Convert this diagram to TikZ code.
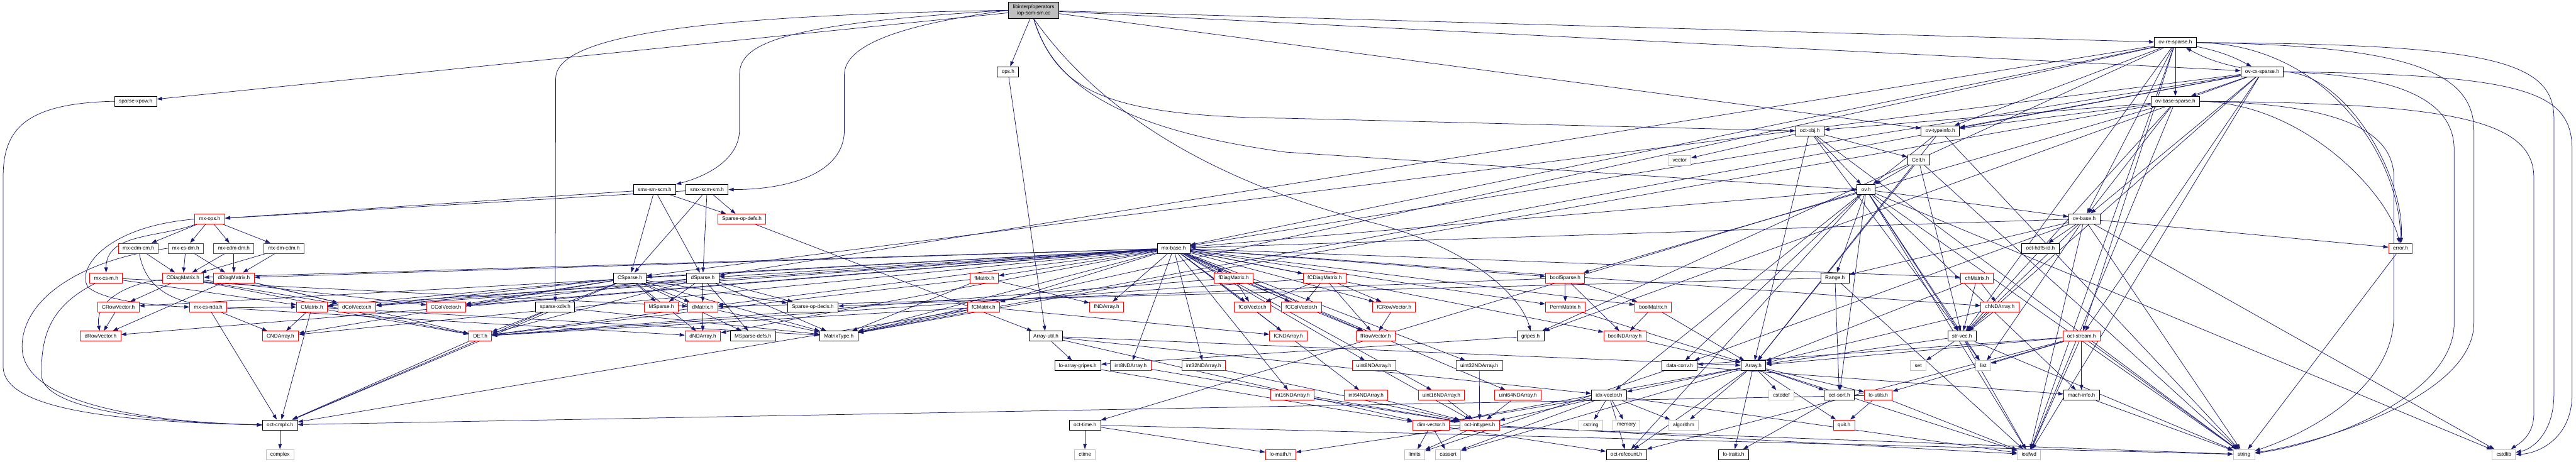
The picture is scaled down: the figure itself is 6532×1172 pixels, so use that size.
\documentclass[tikz,border=0pt]{standalone}
\usepackage{fontspec}
\setmainfont{Liberation Sans}
\usetikzlibrary{arrows.meta}
\definecolor{edgec}{HTML}{191970}
\definecolor{grayb}{HTML}{BFBFBF}
\definecolor{redb}{HTML}{FF0000}
\pgfdeclarelayer{edgelayer}
\pgfsetlayers{edgelayer,main}
\begin{document}
\begin{tikzpicture}[x=0.2pt,y=-0.2pt,
  nd/.style={rectangle,fill=white,minimum height=5.1pt,inner xsep=2.2pt,inner ysep=0pt,font=\fontsize{2.62}{3}\selectfont,line width=0.3pt},
  bn/.style={nd,draw=black},
  rn/.style={nd,draw=redb},
  gn/.style={nd,draw=grayb},
  rootn/.style={nd,draw=black,fill=grayb,minimum height=8.2pt,align=center,font=\fontsize{2.62}{3.2}\selectfont},
  e/.style={draw=edgec,line width=0.24pt,-{Triangle[length=2.6pt,width=1.8pt]}},
]
\useasboundingbox (0,0) rectangle (6532,1172);
% ---------- nodes ----------
\node[rootn] (root) at (2621,26) {libinterp/operators\\/op-scm-sm.cc};
\node[bn] (ovre) at (5516,108) {ov-re-sparse.h};
\node[bn] (ops) at (2556,182) {ops.h};
\node[bn] (ovcx) at (5736,182) {ov-cx-sparse.h};
\node[bn] (sxpow) at (344,257) {sparse-xpow.h};
\node[bn] (ovbs) at (5516,257) {ov-base-sparse.h};
\node[bn] (octobj) at (4589,332) {oct-obj.h};
\node[bn] (ovti) at (4920,332) {ov-typeinfo.h};
\node[gn] (vector) at (4259,407) {vector};
\node[bn] (cell) at (4865,406) {Cell.h};
\node[bn] (smxsm) at (1660,481) {smx-sm-scm.h};
\node[bn] (smxscm) at (1793,481) {smx-scm-sm.h};
\node[bn] (ov) at (4732,481) {ov.h};
\node[rn] (mxops) at (532,556) {mx-ops.h};
\node[rn] (spopdefs) at (1881,556) {Sparse-op-defs.h};
\node[bn] (ovbase) at (5285,555) {ov-base.h};
\node[rn] (mxcdmcm) at (351,630) {mx-cdm-cm.h};
\node[rn] (mxcsdm) at (471,630) {mx-cs-dm.h};
\node[rn] (mxcdmdm) at (593,630) {mx-cdm-dm.h};
\node[rn] (mxdmcdm) at (720,630) {mx-dm-cdm.h};
\node[bn] (mxbase) at (2976,630) {mx-base.h};
\node[bn] (hdf5) at (5174,630) {oct-hdf5-id.h};
\node[rn] (error) at (6087,630) {error.h};
\node[rn] (mxcsm) at (269,705) {mx-cs-m.h};
\node[rn] (CDiag) at (464,705) {CDiagMatrix.h};
\node[rn] (dDiag) at (593,705) {dDiagMatrix.h};
\node[bn] (CSparse) at (1597,705) {CSparse.h};
\node[bn] (dSparse) at (1782,705) {dSparse.h};
\node[rn] (fMatrix) at (2496,705) {fMatrix.h};
\node[rn] (fDiag) at (3128,705) {fDiagMatrix.h};
\node[rn] (fCDiag) at (3359,705) {fCDiagMatrix.h};
\node[rn] (boolSparse) at (3969,705) {boolSparse.h};
\node[bn] (Range) at (4653,705) {Range.h};
\node[rn] (chMatrix) at (5013,705) {chMatrix.h};
\node[rn] (CRowVec) at (300,779) {CRowVector.h};
\node[rn] (mxcsnda) at (528,779) {mx-cs-nda.h};
\node[rn] (CMatrix) at (791,779) {CMatrix.h};
\node[rn] (dColVec) at (905,779) {dColVector.h};
\node[rn] (CColVec) at (1131,779) {CColVector.h};
\node[bn] (sxdiv) at (1408,779) {sparse-xdiv.h};
\node[rn] (MSparse) at (1677,779) {MSparse.h};
\node[rn] (dMatrix) at (1782,779) {dMatrix.h};
\node[bn] (spopdecls) at (2061,779) {Sparse-op-decls.h};
\node[rn] (fCMatrix) at (2494,779) {fCMatrix.h};
\node[rn] (fNDArray) at (2806,779) {fNDArray.h};
\node[rn] (fColVec) at (3176,779) {fColVector.h};
\node[rn] (fCColVec) at (3300,779) {fCColVector.h};
\node[rn] (fCRowVec) at (3535,779) {fCRowVector.h};
\node[rn] (PermMatrix) at (3969,779) {PermMatrix.h};
\node[rn] (boolMatrix) at (4192,779) {boolMatrix.h};
\node[rn] (chNDArray) at (5071,779) {chNDArray.h};
\node[rn] (dRowVec) at (255,853) {dRowVector.h};
\node[rn] (CNDArray) at (711,853) {CNDArray.h};
\node[rn] (DET) at (1218,853) {DET.h};
\node[rn] (dNDArray) at (1782,853) {dNDArray.h};
\node[bn] (MSpdefs) at (1909,853) {MSparse-defs.h};
\node[bn] (MatrixType) at (2127,853) {MatrixType.h};
\node[bn] (ArrayUtil) at (2652,853) {Array-util.h};
\node[rn] (fCNDArray) at (3267,853) {fCNDArray.h};
\node[rn] (fRowVec) at (3488,853) {fRowVector.h};
\node[bn] (gripes) at (3881,853) {gripes.h};
\node[rn] (boolNDArray) at (4120,853) {boolNDArray.h};
\node[bn] (strvec) at (4975,853) {str-vec.h};
\node[rn] (octstream) at (5278,853) {oct-stream.h};
\node[bn] (lagripes) at (2733,928) {lo-array-gripes.h};
\node[rn] (int8) at (2867,928) {int8NDArray.h};
\node[rn] (int32) at (3052,928) {int32NDArray.h};
\node[rn] (uint8) at (3484,928) {uint8NDArray.h};
\node[rn] (uint32) at (3751,928) {uint32NDArray.h};
\node[bn] (dataconv) at (4259,928) {data-conv.h};
\node[bn] (Array) at (4446,928) {Array.h};
\node[gn] (set) at (4864,928) {set};
\node[gn] (list) at (5029,928) {list};
\node[rn] (int16) at (3277,1003) {int16NDArray.h};
\node[rn] (int64) at (3464,1003) {int64NDArray.h};
\node[rn] (uint16) at (3655,1003) {uint16NDArray.h};
\node[rn] (uint64) at (3849,1003) {uint64NDArray.h};
\node[bn] (idxvec) at (4080,1003) {idx-vector.h};
\node[gn] (cstddef) at (4517,1003) {cstddef};
\node[bn] (octsort) at (4664,1003) {oct-sort.h};
\node[rn] (loutils) at (4763,1003) {lo-utils.h};
\node[bn] (machinfo) at (5278,1003) {mach-info.h};
\node[bn] (octcmplx) at (710,1078) {oct-cmplx.h};
\node[bn] (octtime) at (2751,1078) {oct-time.h};
\node[rn] (dimvec) at (3629,1078) {dim-vector.h};
\node[rn] (inttypes) at (3752,1078) {oct-inttypes.h};
\node[gn] (cstring) at (4034,1078) {cstring};
\node[gn] (memory) at (4124,1078) {memory};
\node[gn] (algorithm) at (4269,1078) {algorithm};
\node[rn] (quit) at (4676,1078) {quit.h};
\node[gn] (complex) at (710,1153) {complex};
\node[gn] (ctime) at (2751,1153) {ctime};
\node[rn] (lomath) at (3247,1153) {lo-math.h};
\node[gn] (limits) at (3587,1153) {limits};
\node[gn] (cassert) at (3672,1153) {cassert};
\node[bn] (refcount) at (4124,1153) {oct-refcount.h};
\node[bn] (lotraits) at (4396,1153) {lo-traits.h};
\node[gn] (iosfwd) at (5145,1153) {iosfwd};
\node[gn] (string) at (5690,1153) {string};
\node[gn] (cstdlib) at (6349,1153) {cstdlib};
% ---------- edges ----------
\begin{pgfonlayer}{edgelayer}
\foreach \sa/\ta in {root/sxpow, root/ops, root/ovti, root/ovre, root/ovcx,
ovre/ovbs, ovre/ovbase, ovre/ovti, ovre/mxbase, ovre/strvec, ovre/gripes, ovre/octstream, ovre/dSparse, ovre/MatrixType, ovre/iosfwd,
ovcx/ovbs, ovcx/ovbase, ovcx/ovti, ovcx/mxbase, ovcx/strvec, ovcx/gripes, ovcx/octstream, ovcx/CSparse, ovcx/MatrixType, ovcx/iosfwd,
ovbs/octobj, ovbs/ovbase, ovbs/ovti, ovbs/boolSparse, ovbs/MatrixType, ovbs/strvec, ovbs/iosfwd,
ovti/string, ovti/Array, ovti/ov,
octobj/vector, octobj/Array, octobj/ov, octobj/cell, octobj/strvec, octobj/string,
cell/Array, cell/ov, cell/strvec, cell/string,
ov/ovbase, ov/mxbase, ov/Range, ov/dataconv, ov/idxvec, ov/machinfo, ov/octtime, ov/strvec, ov/octsort, ov/refcount, ov/cstdlib, ov/iosfwd, ov/string, ov/list,
ovbase/mxbase, ovbase/Range, ovbase/dataconv, ovbase/strvec, ovbase/error, ovbase/hdf5, ovbase/cstdlib, ovbase/iosfwd, ovbase/list, ovbase/string,
mxbase/MatrixType, mxbase/dMatrix, mxbase/CMatrix, mxbase/fMatrix, mxbase/fCMatrix, mxbase/boolMatrix, mxbase/chMatrix, mxbase/dColVec, mxbase/dRowVec, mxbase/CColVec, mxbase/CRowVec, mxbase/fColVec, mxbase/fRowVec, mxbase/fCColVec, mxbase/fCRowVec, mxbase/dDiag, mxbase/CDiag, mxbase/fDiag, mxbase/fCDiag, mxbase/PermMatrix, mxbase/dSparse, mxbase/CSparse, mxbase/boolSparse, mxbase/boolNDArray, mxbase/chNDArray, mxbase/dNDArray, mxbase/CNDArray, mxbase/fNDArray, mxbase/fCNDArray, mxbase/int8, mxbase/int16, mxbase/int32, mxbase/int64, mxbase/uint8, mxbase/uint16, mxbase/uint32, mxbase/uint64,
smxsm/mxops, smxsm/spopdefs, smxsm/CSparse, smxsm/dSparse,
smxscm/mxops, smxscm/spopdefs, smxscm/CSparse, smxscm/dSparse,
sxdiv/octcmplx, sxdiv/MatrixType, ops/ArrayUtil, spopdefs/ArrayUtil,
mxops/mxcdmcm, mxops/mxcsdm, mxops/mxcdmdm, mxops/mxdmcdm,
mxcdmcm/CDiag, mxcsdm/CDiag, mxcsdm/dDiag, mxcdmdm/CDiag, mxcdmdm/dDiag, mxdmcdm/CDiag, mxdmcdm/dDiag,
mxcsm/CMatrix, mxcsm/dMatrix, mxcsnda/CNDArray, mxcsnda/dNDArray, mxcsnda/octcmplx,
CDiag/CRowVec, CDiag/CColVec, CDiag/dColVec, CDiag/DET, dDiag/dRowVec, dDiag/dColVec, dDiag/DET, CRowVec/dRowVec,
CMatrix/CNDArray, CMatrix/octcmplx, CMatrix/DET, CMatrix/MatrixType,
CSparse/CColVec, CSparse/CMatrix, CSparse/CNDArray, CSparse/dColVec, CSparse/dNDArray, CSparse/octcmplx, CSparse/DET, CSparse/MSparse, CSparse/MSpdefs, CSparse/MatrixType, CSparse/spopdecls, CSparse/dMatrix,
dSparse/dMatrix, dSparse/dNDArray, dSparse/CColVec, dSparse/dColVec, dSparse/DET, dSparse/MSparse, dSparse/MSpdefs, dSparse/MatrixType, dSparse/spopdecls,
dMatrix/dNDArray, dMatrix/DET, dMatrix/MatrixType, DET/octcmplx,
fMatrix/fNDArray, fMatrix/DET, fMatrix/MatrixType, fCMatrix/fCNDArray, fCMatrix/DET, fCMatrix/MatrixType, fCMatrix/octcmplx,
fDiag/fColVec, fDiag/fRowVec, fDiag/DET, fCDiag/fCColVec, fCDiag/fCRowVec, fCDiag/fRowVec, fCDiag/fColVec, fCDiag/DET, fCRowVec/fRowVec,
boolSparse/PermMatrix, boolSparse/boolNDArray, boolSparse/boolMatrix, boolSparse/spopdecls,
PermMatrix/Array, boolMatrix/boolNDArray, boolMatrix/Array, boolNDArray/Array,
chMatrix/chNDArray, chMatrix/strvec, chMatrix/Array, chNDArray/strvec, chNDArray/Array,
Range/octsort, Range/iosfwd, Range/dMatrix,
strvec/Array, strvec/set, strvec/list, strvec/iosfwd, strvec/string,
octstream/Array, octstream/machinfo, octstream/loutils, octstream/list, octstream/iosfwd, octstream/string, octstream/dataconv, octstream/refcount,
Array/cassert, Array/cstddef, Array/algorithm, Array/iosfwd, Array/dimvec, Array/idxvec, Array/lotraits, Array/loutils, Array/octsort, Array/quit, Array/refcount,
idxvec/cassert, idxvec/cstring, idxvec/algorithm, idxvec/memory, idxvec/iosfwd, idxvec/dimvec, idxvec/inttypes, idxvec/refcount,
loutils/quit, loutils/iosfwd, loutils/octcmplx, octsort/lotraits, machinfo/string, dataconv/machinfo, dataconv/limits,
ArrayUtil/lagripes, ArrayUtil/dimvec, ArrayUtil/Array, ArrayUtil/idxvec, lagripes/dimvec, gripes/lagripes,
int8/inttypes, int16/inttypes, int32/inttypes, int64/inttypes, uint8/inttypes, uint16/inttypes, uint32/inttypes, uint64/inttypes,
dimvec/cassert, dimvec/limits, dimvec/refcount, dimvec/string,
inttypes/limits, inttypes/lomath, inttypes/iosfwd,
octtime/ctime, octtime/lomath, octtime/string, octcmplx/complex, error/string}
  \draw[e] (\sa) -- (\ta);
% curved edges from the root
\draw[e] (root.west) .. controls (1700,40) and (1409,100) .. (1409,200) -- (sxdiv);
\draw[e] (root.west) .. controls (1980,60) and (1875,110) .. (1875,190) -- (1875,330) .. controls (1875,400) and (1800,445) .. (smxsm.north east);
\draw[e] (root.west) .. controls (2300,60) and (2141,110) .. (2141,190) -- (2141,330) .. controls (2141,440) and (2000,481) .. (smxscm.east);
\draw[e] (root.south) .. controls (2680,230) and (2800,295) .. (3260,300) -- (octobj.west);
\draw[e] (root.south) .. controls (2670,220) and (2850,330) .. (3260,386) -- (ov.west);
\draw[e] (root.south) .. controls (2800,300) and (3100,470) .. (3500,570) .. controls (3750,640) and (3860,760) .. (gripes.north);
\draw[e] (ovre) to[bend left=8] (ovcx);
\draw[e] (ovcx) to[bend left=8] (ovre);
% long right-hand routes
\draw[e] (ovre.east) .. controls (6300,112) and (6476,150) .. (6476,300) -- (6476,1000) .. controls (6476,1100) and (6420,1140) .. (cstdlib);
\draw[e] (ovcx.east) .. controls (6400,190) and (6522,230) .. (6522,380) -- (6522,1000) .. controls (6522,1110) and (6440,1150) .. (cstdlib.east);
\draw[e] (ovbs.east) .. controls (6200,262) and (6425,300) .. (6425,450) -- (6425,1050) .. controls (6425,1110) and (6380,1130) .. (cstdlib);
\draw[e] (ovre.east) .. controls (6100,115) and (6273,180) .. (6273,330) -- (6273,820) .. controls (6273,1000) and (5900,1120) .. (string);
\draw[e] (ovcx.east) .. controls (6050,190) and (6223,240) .. (6223,380) -- (6223,820) .. controls (6223,1010) and (5880,1130) .. (string);
\draw[e] (ovbs.east) .. controls (5900,262) and (6070,320) .. (6070,450) -- (6070,800) .. controls (6070,1000) and (5820,1110) .. (string);
\draw[e] (ovre.east) .. controls (5900,110) and (6087,400) .. (error);
\draw[e] (ovcx.east) .. controls (5950,185) and (6100,450) .. (error);
\draw[e] (ovbs.east) .. controls (5850,262) and (6060,500) .. (error);
% left-hand curved routes
\draw[e] (sxpow.west) .. controls (60,262) and (8,330) .. (8,450) -- (8,930) .. controls (8,1040) and (300,1070) .. (octcmplx.west);
\draw[e] (mxcsdm.west) .. controls (200,660) and (56,760) .. (56,880) .. controls (56,1020) and (350,1070) .. (octcmplx.west);
\draw[e] (mxcsm) .. controls (120,780) and (105,860) .. (105,950) .. controls (105,1040) and (400,1072) .. (octcmplx.west);
\draw[e] (mxops) to[out=200,in=90] (mxcsm);
\draw[e] (mxops.west) .. controls (260,575) and (190,690) .. (225,730) .. controls (270,765) and (400,776) .. (mxcsnda.west);
\draw[e] (CDiag) to[out=185,in=100] (dRowVec);
\draw[e] (mxcdmcm) to[out=-80,in=180] (CMatrix);
\end{pgfonlayer}
\end{tikzpicture}
\end{document}
